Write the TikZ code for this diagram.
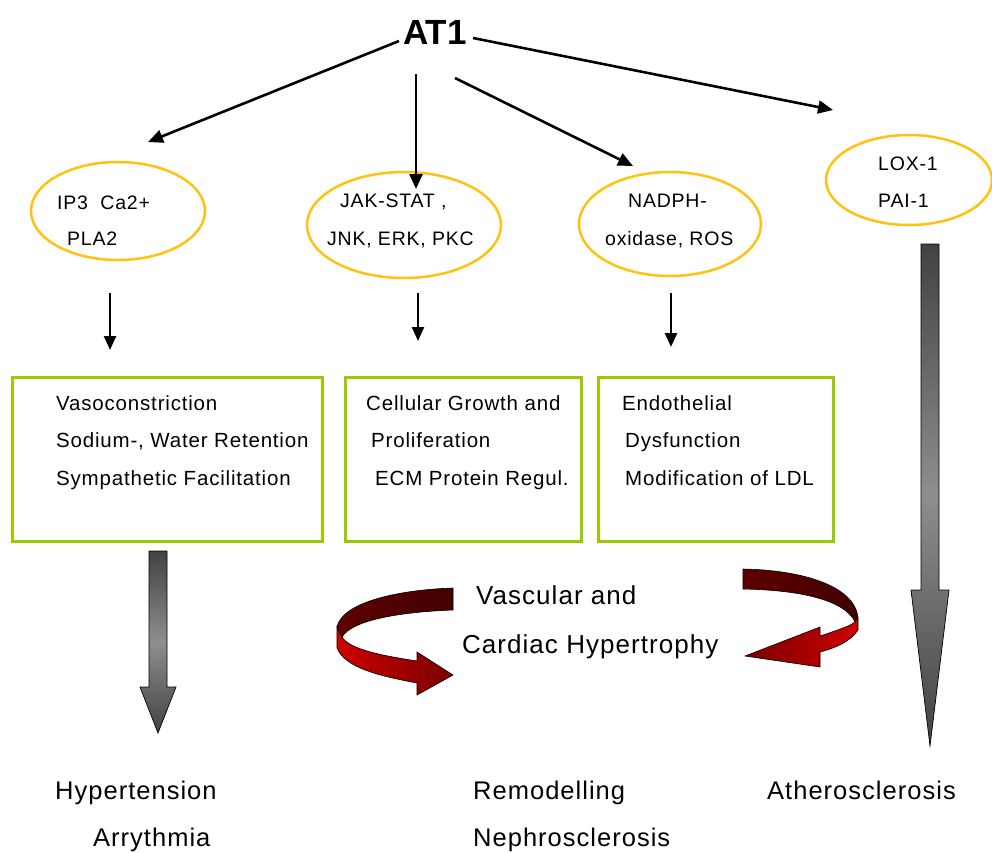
\documentclass[tikz,border=0pt]{standalone}
\usepackage{fontspec}
\setmainfont{Liberation Sans}
\newfontfamily\fa[LetterSpace=4]{Liberation Sans}
\usetikzlibrary{shapes.geometric,arrows.meta}
\definecolor{ellcol}{HTML}{FFC20E}
\definecolor{boxcol}{HTML}{99CC00}
\definecolor{dredA}{HTML}{5E0000}
\definecolor{dredB}{HTML}{420000}
\definecolor{bred}{HTML}{CC0000}
\definecolor{mred}{HTML}{7A0000}
\definecolor{gdark}{HTML}{424242}
\definecolor{glight}{HTML}{8E8E8E}
\begin{document}
\begin{tikzpicture}[x=1pt,y=-1pt,
  ell/.style={draw=ellcol, line width=2.5pt, ellipse, inner sep=0},
  gbox/.style={draw=boxcol, line width=3pt, rectangle, inner sep=0},
  arr/.style={line width=2.6pt, -{Triangle[length=15pt,width=13pt]}},
  sarr/.style={line width=2.4pt, -{Triangle[length=14pt,width=12pt]}},
  etxt/.style={anchor=base west, inner sep=0, font=\fa\fontsize{19.5}{23}\selectfont},
  btxt/.style={anchor=base west, inner sep=0, font=\fa\fontsize{20.5}{24}\selectfont},
  ltxt/.style={anchor=base west, inner sep=0, font=\fa\fontsize{25.5}{30}\selectfont},
  vtxt/.style={anchor=base west, inner sep=0, font=\fa\fontsize{26}{30}\selectfont},
  garrow/.style={draw=black, line width=0.7pt, top color=gdark, bottom color=gdark, middle color=glight},
  darkband/.style={draw=black, line width=0.6pt, left color=dredA, right color=dredB},
  redband/.style={draw=black, line width=0.6pt}
]
\useasboundingbox (0,0) rectangle (992,852);

% title
\node[anchor=base west, inner sep=0, font=\bfseries\fontsize{35}{40}\selectfont] (at1) at (403,44) {AT1};

% ellipses
\node[ell, minimum width=174pt, minimum height=98pt] (e1) at (118,211) {};
\node[ell, minimum width=194pt, minimum height=106pt] (e2) at (404,225) {};
\node[ell, minimum width=182pt, minimum height=104pt] (e3) at (670,224) {};
\node[ell, minimum width=166pt, minimum height=90pt] (e4) at (909,180) {};

\node[etxt] (e1a) at (57,209) {IP3\ \ Ca2+};
\node[etxt] (e1b) at (67,245) {PLA2};
\node[etxt] (e2a) at (340,207) {JAK-STAT ,};
\node[etxt] (e2b) at (327,245) {JNK, ERK, PKC};
\node[etxt] (e3a) at (628,207) {NADPH-};
\node[etxt] (e3b) at (605,245) {oxidase, ROS};
\node[etxt] (e4a) at (878,170) {LOX-1};
\node[etxt] (e4b) at (878,207) {PAI-1};

% arrows from AT1
\coordinate (s1) at (399,41);
\coordinate (t1) at (148,142);
\coordinate (s2) at (416,74);
\coordinate (t2) at (416,189);
\coordinate (s3) at (455,78);
\coordinate (t3) at (633,166);
\coordinate (s4) at (473,38);
\coordinate (t4) at (833,110);
\draw[arr] (s1) -- (t1);
\draw[arr] (s2) -- (t2);
\draw[arr] (s3) -- (t3);
\draw[arr] (s4) -- (t4);

% boxes
\node[gbox, minimum width=310pt, minimum height=164pt] (b1) at (167,459.5) {};
\node[gbox, minimum width=236pt, minimum height=164pt] (b2) at (463,459) {};
\node[gbox, minimum width=235pt, minimum height=164pt] (b3) at (715.5,459) {};

% short arrows
\coordinate (u1) at (110,293);
\coordinate (v1) at (110,350);
\coordinate (u2) at (418,293);
\coordinate (v2) at (418,341);
\coordinate (u3) at (671,293);
\coordinate (v3) at (671,347);
\draw[sarr] (u1) -- (v1);
\draw[sarr] (u2) -- (v2);
\draw[sarr, line width=2.8pt] (u3) -- (v3);

\node[btxt] (b1a) at (56,410) {Vasoconstriction};
\node[btxt] (b1b) at (56,447) {Sodium-, Water Retention};
\node[btxt] (b1c) at (56,485) {Sympathetic Facilitation};
\node[btxt] (b2a) at (366,410) {Cellular Growth and};
\node[btxt] (b2b) at (371,447) {Proliferation};
\node[btxt] (b2c) at (375,485) {ECM Protein Regul.};
\node[btxt] (b3a) at (622,410) {Endothelial};
\node[btxt] (b3b) at (625,447) {Dysfunction};
\node[btxt] (b3c) at (625,485) {Modification of LDL};

% gray block arrows
\path[garrow] (149,551) -- (167,551) -- (167,687) -- (176,687) -- (158,733) -- (140,687) -- (149,687) -- cycle;
\path[garrow] (921,244) -- (939,244) -- (939,590) -- (949,590) -- (930,746) -- (911,590) -- (921,590) -- cycle;

% left red curved arrow
\path[darkband] (453,588) .. controls (395,590) and (342,603) .. (337,627) -- (342,637) .. controls (352,620) and (400,612) .. (453,610) -- cycle;
\path[redband, left color=bred, right color=mred] (337,627) -- (337,648) .. controls (345,668) and (380,676) .. (417,683) -- (417,695) -- (453,675) -- (417,652) -- (417,661) .. controls (385,656) and (350,650) .. (342,637) -- cycle;

% right red curved arrow
\path[darkband] (743,569) .. controls (800,570) and (855,585) .. (858,618) -- (855,622) .. controls (845,600) and (800,590) .. (743,589) -- cycle;
\path[redband, left color=mred, right color=bred] (858,618) -- (858,630) .. controls (850,642) and (835,648) .. (820,652) -- (820,667) -- (745,656) -- (820,627) -- (820,636) .. controls (838,630) and (850,626) .. (855,622) -- cycle;

\node[vtxt] (v1t) at (476,604) {Vascular and};
\node[vtxt] (v2t) at (462,653) {Cardiac Hypertrophy};

% bottom labels
\node[ltxt] (l1) at (55,799) {Hypertension};
\node[ltxt] (l2) at (93,846) {Arrythmia};
\node[ltxt] (l3) at (473,799) {Remodelling};
\node[ltxt] (l4) at (473,846) {Nephrosclerosis};
\node[ltxt] (l5) at (767,799) {Atherosclerosis};
\end{tikzpicture}
\end{document}
